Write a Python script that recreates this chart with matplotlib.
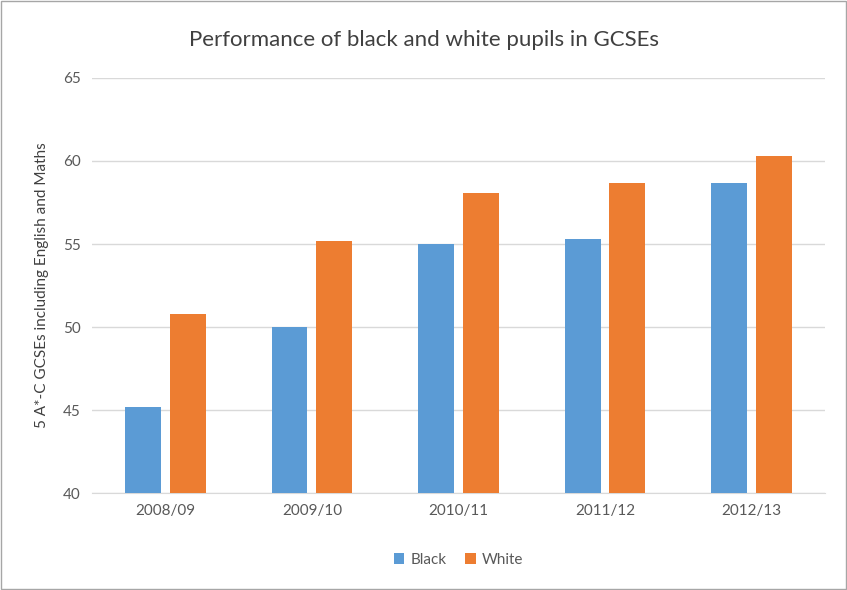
import matplotlib
matplotlib.use("Agg")
import matplotlib.pyplot as plt
import numpy as np

plt.rcParams["font.family"] = "Lato"

categories = ["2008/09", "2009/10", "2010/11", "2011/12", "2012/13"]
black = [45.2, 50.0, 55.0, 55.3, 58.7]
white = [50.8, 55.2, 58.1, 58.7, 60.3]
yticks = [40, 45, 50, 55, 60, 65]

fig = plt.figure(figsize=(8.47, 5.9), dpi=100)
ax = fig.add_axes([0.1086, 0.164, 0.8654, 0.704])
x = np.arange(len(categories))
w = 0.245
gap = 0.06
ax.bar(x - (w + gap) / 2, black, w, color="#5B9BD5", label="Black", zorder=3)
ax.bar(x + (w + gap) / 2, white, w, color="#ED7D31", label="White", zorder=3)

ax.set_ylim(40, 65)
ax.set_xlim(-0.5, len(categories) - 0.5)
ax.set_yticks(yticks)
ax.set_xticks(x)
ax.set_xticklabels(categories)
ax.tick_params(length=0, labelsize=11, colors="#595959", pad=8)
ax.grid(axis="y", color="#D9D9D9", linewidth=1, zorder=0)
for s in ["top", "right", "left"]:
    ax.spines[s].set_visible(False)
ax.spines["bottom"].set_color("#D9D9D9")
ax.set_ylabel("5 A*-C GCSEs including English and Maths", fontsize=11, color="#404040", labelpad=10)
fig.suptitle("Performance of black and white pupils in GCSEs", y=0.95, fontsize=16, color="#404040")
ax.legend(loc="upper center", bbox_to_anchor=(0.5, -0.11), ncol=2, frameon=False,
          fontsize=11, labelcolor="#595959", handlelength=0.7, handleheight=0.7, columnspacing=1.2, handletextpad=0.4)
fig.patches.append(plt.Rectangle((0.0012, 0.0017), 0.9976, 0.9966, transform=fig.transFigure,
                                 fill=False, edgecolor="#A6A6A6", linewidth=1))
fig.savefig("out.png", dpi=100)
